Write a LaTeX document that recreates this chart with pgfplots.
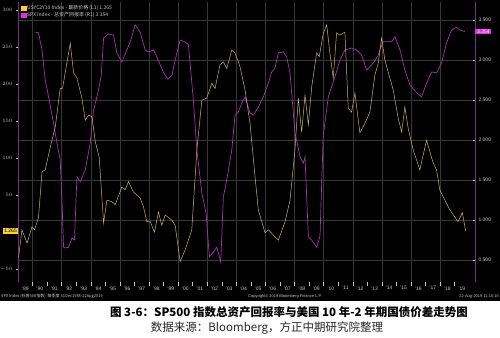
\documentclass[border=0pt]{standalone}
\usepackage{fontspec}
\setmainfont{Liberation Sans}
\newfontfamily\cjk{Noto Sans CJK SC}
\usepackage{pgfplots}
\pgfplotsset{compat=1.18}
\definecolor{ylw}{HTML}{C9B36A}
\definecolor{mag}{HTML}{A62FB5}
\definecolor{ylwtag}{HTML}{F2D33C}
\definecolor{magtag}{HTML}{E32BE8}
\definecolor{axpur}{HTML}{7A2A8C}
\definecolor{gridc}{HTML}{383838}
\definecolor{lbl}{HTML}{C8C8C8}
\begin{document}
\begin{tikzpicture}[x=1pt,y=1pt]
\useasboundingbox (0pt,-337pt) rectangle (500pt,0pt);
\fill[white] (0pt,-337pt) rectangle (500pt,0pt);
\fill[black] (0pt,-301pt) rectangle (500pt,0pt);

% right axis: SPX total return (R1), with grid
\begin{axis}[
  at={(18pt,-282pt)}, anchor=south west,
  scale only axis, width=457pt, height=280pt,
  xmin=1989, xmax=2020.4, ymin=0.225, ymax=3.725,
  axis y line*=right, axis x line*=bottom,
  x axis line style={draw=none},
  y axis line style={draw=axpur, line width=0.9pt},
  xtick={1990,1992,...,2018}, xticklabels={},
  major x tick style={draw=none},
  ytick={0.5,1,1.5,2,2.5,3,3.5},
  yticklabels={0.500,1.000,1.500,2.000,2.500,3.000,3.500},
  xmajorgrids, ymajorgrids,
  grid style={gridc, line width=0.4pt},
  major tick length=2pt,
  major y tick style={lbl, line width=0.3pt},
  y tick label style={font=\fontsize{5}{6}\selectfont, text=lbl},
  clip=false,
]
\addplot[mag, line width=0.7pt] coordinates {
(1990.14,3.35) (1990.41,3.34) (1990.65,3.125) (1990.87,2.75) (1991.10,2.54) (1991.44,2.21) (1991.68,1.96) (1991.90,1.75) (1992.02,1.25) (1992.13,0.66) (1992.25,0.65) (1992.47,0.66) (1992.71,0.775) (1992.88,0.75) (1993.05,1.54) (1993.28,1.48) (1993.62,1.625) (1993.96,1.96) (1994.19,2.375) (1994.49,2.59) (1994.72,2.81) (1994.88,3.275) (1995.22,3.325) (1995.56,3.31) (1995.79,3.09) (1996.14,2.975) (1996.48,3.125) (1996.71,3.225) (1997.05,3.44) (1997.39,3.35) (1997.74,3.125) (1997.96,3.1) (1998.31,3.125) (1998.54,3.04) (1999.00,2.84) (1999.30,2.76) (1999.57,2.81) (1999.80,3.0) (2000.14,3.25) (2000.49,3.225) (2000.71,3.19) (2001.05,2.5) (2001.29,1.875) (2001.63,1.34) (2001.92,1.09) (2002.15,0.54) (2002.38,0.59) (2002.66,0.66) (2002.93,0.475) (2003.11,1.29) (2003.34,1.5) (2003.69,1.875) (2003.91,2.31) (2004.14,2.35) (2004.37,2.46) (2004.60,2.54) (2004.94,2.34) (2005.17,2.31) (2005.51,2.41) (2005.86,2.54) (2006.20,2.71) (2006.43,2.85) (2006.66,2.9) (2006.89,3.09) (2007.23,3.1) (2007.46,3.04) (2007.69,2.84) (2008.03,2.09) (2008.38,1.79) (2008.60,1.71) (2008.72,1.79) (2008.95,0.79) (2009.18,0.75) (2009.52,0.66) (2009.75,0.8) (2009.97,2.05) (2010.32,2.54) (2010.78,2.79) (2011.12,3.0) (2011.46,3.125) (2011.92,3.15) (2012.27,3.125) (2012.61,3.06) (2012.95,2.875) (2013.41,2.96) (2013.75,3.06) (2014.09,3.23) (2014.67,3.23) (2014.90,3.29) (2015.25,3.125) (2015.58,2.875) (2015.93,2.69) (2016.39,2.59) (2016.73,2.54) (2017.07,2.71) (2017.42,2.85) (2017.76,2.84) (2018.10,2.96) (2018.44,3.21) (2018.79,3.375) (2019.13,3.41) (2019.37,3.375) (2019.71,3.354)
};
\node[fill=magtag, text=white, font=\fontsize{5}{6}\selectfont, inner sep=1pt, anchor=west] at (axis cs:2020.4,3.354) {\hspace{1pt}3.354};
\end{axis}

% left axis: USYC2Y10 (L1)
\begin{axis}[
  at={(18pt,-282pt)}, anchor=south west,
  scale only axis, width=457pt, height=280pt,
  xmin=1989, xmax=2020.4, ymin=-67.6, ymax=310.8,
  axis y line*=left, axis x line*=bottom,
  x axis line style={draw=none},
  y axis line style={draw=axpur, line width=0.9pt},
  xtick={1989.5,1990.5,...,2019.5},
  xticklabels={'89,'90,'91,'92,'93,'94,'95,'96,'97,'98,'99,'00,'01,'02,'03,'04,'05,'06,'07,'08,'09,'10,'11,'12,'13,'14,'15,'16,'17,'18,'19},
  major x tick style={draw=none},
  minor xtick={1990,1991,...,2019},
  minor x tick style={lbl, line width=0.4pt},
  minor tick length=4pt, tick align=outside,
  major tick length=2pt,
  ytick={-50,50,100,150,200,250,300},
  major y tick style={lbl, line width=0.3pt},
  y tick label style={font=\fontsize{5}{6}\selectfont, text=lbl},
  x tick label style={font=\fontsize{5}{6}\selectfont, text=lbl, yshift=1pt},
  legend style={at={(0.006,0.993)}, anchor=north west, fill=none, draw=none,
    text=lbl, font=\cjk\fontsize{5}{5.5}\selectfont, inner sep=0.5pt,
    row sep=-0.5pt, nodes={inner sep=0.8pt}},
  legend cell align=left,
  clip=false,
]
\addlegendimage{legend image code/.code={\fill[ylwtag] (0pt,-2.3pt) rectangle (4.6pt,2.3pt);}}
\addlegendentry{USYC2Y10 Index - 最新价格 (L1) 1.265}
\addlegendimage{legend image code/.code={\fill[magtag] (0pt,-2.3pt) rectangle (4.6pt,2.3pt);}}
\addlegendentry{SPX Index - 总资产回报率 (R1) 3.354}
\addplot[ylw, line width=0.5pt, forget plot] coordinates {
(1989.04,-34) (1989.27,3) (1989.62,-15) (1989.96,7) (1990.14,3) (1990.41,20) (1990.65,81) (1990.87,84) (1991.22,115) (1991.56,142) (1991.90,194) (1992.06,194) (1992.25,216) (1992.59,255) (1992.82,215) (1993.05,208) (1993.39,181) (1993.62,151) (1993.85,158) (1994.08,156) (1994.31,122) (1994.58,101) (1994.88,12) (1995.11,43) (1995.45,41) (1995.68,37) (1996.14,61) (1996.36,57) (1996.59,68) (1996.93,54) (1997.39,46) (1997.62,34) (1997.85,14) (1998.08,14) (1998.38,0) (1998.65,27) (1998.88,9) (1999.11,23) (1999.57,16) (1999.80,9) (2000.14,-40) (2000.49,-24) (2000.94,3) (2001.29,111) (2001.63,178) (2001.97,181) (2002.32,201) (2002.54,194) (2002.88,226) (2003.11,230) (2003.34,221) (2003.69,246) (2003.91,242) (2004.26,223) (2004.60,192) (2004.94,147) (2005.29,74) (2005.51,30) (2005.97,-1) (2006.20,3) (2006.54,-4) (2006.89,-11) (2007.35,14) (2007.69,43) (2008.03,111) (2008.26,181) (2008.49,135) (2008.72,185) (2008.95,145) (2009.18,196) (2009.52,242) (2009.70,237) (2009.97,268) (2010.21,280) (2010.43,242) (2010.66,208) (2010.89,269) (2011.12,266) (2011.46,270) (2011.69,167) (2011.92,162) (2012.15,188) (2012.49,134) (2012.84,147) (2013.18,162) (2013.52,212) (2013.75,228) (2013.98,262) (2014.21,232) (2014.55,208) (2014.78,192) (2015.12,154) (2015.36,135) (2015.58,169) (2015.81,140) (2016.15,111) (2016.61,84) (2017.07,124) (2017.53,93) (2017.76,84) (2017.98,57) (2018.33,43) (2018.67,30) (2019.02,20) (2019.23,14) (2019.53,26) (2019.76,1.265)
};
\node[fill=ylwtag, text=black, font=\fontsize{5}{6}\selectfont, inner sep=1pt, anchor=east] at (axis cs:1989,1.265) {1.265\hspace{1pt}};
\end{axis}

% footer inside the black panel
\node[anchor=west, text=lbl, font=\cjk\fontsize{4}{5}\selectfont, inner sep=0pt] at (1pt,-296.5pt) {SPX Index (标普500指数)\enspace 每季度 31Dec1988-22Aug2019};
\node[text=lbl, font=\fontsize{4}{5}\selectfont, inner sep=0pt] at (285pt,-296.5pt) {Copyright\textcopyright{} 2019 Bloomberg Finance L.P.};
\node[anchor=east, text=lbl, font=\fontsize{4}{5}\selectfont, inner sep=0pt] at (499pt,-296.5pt) {22-Aug-2019 11:10:16};

% caption
\node[font=\cjk\bfseries\fontsize{11.5}{13}\selectfont, inner sep=0pt] at (289pt,-312pt) {图 3-6：SP500 指数总资产回报率与美国 10 年-2 年期国债价差走势图};
\node[font=\cjk\fontsize{11.5}{13}\selectfont, text=black!85, inner sep=0pt] at (267pt,-328.5pt) {数据来源：Bloomberg，方正中期研究院整理};
\end{tikzpicture}
\end{document}
